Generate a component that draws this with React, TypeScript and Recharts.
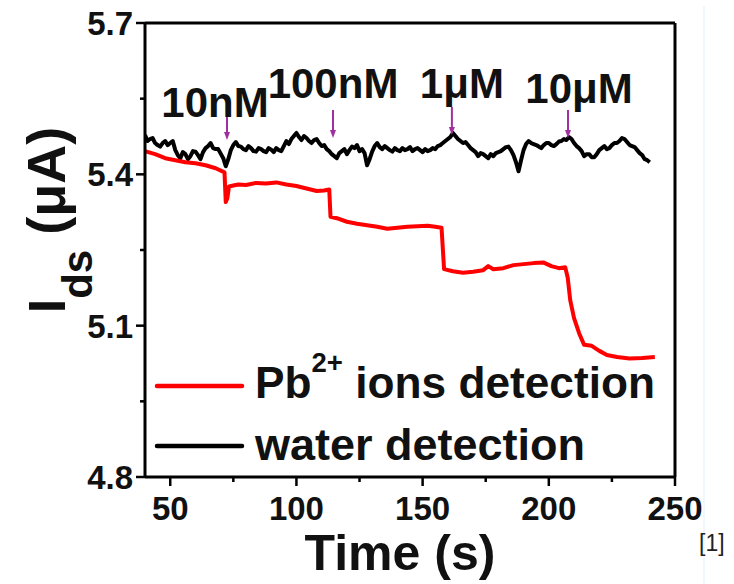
import { LineChart, Line, XAxis, YAxis, ReferenceLine, ReferenceDot, Legend } from "recharts";

const FONT = "'Liberation Sans', Arial, Helvetica, sans-serif";

// water detection (black trace), one reading per second
const waterTime = [
  40, 41, 42, 43, 44, 45, 46, 47, 48, 49,
  50, 51, 52, 53, 54, 55, 56, 57, 58, 59,
  60, 61, 62, 63, 64, 65, 66, 67, 68, 69,
  70, 71, 72, 73, 74, 75, 76, 77, 78, 79,
  80, 81, 82, 83, 84, 85, 86, 87, 88, 89,
  90, 91, 92, 93, 94, 95, 96, 97, 98, 99,
  100, 101, 102, 103, 104, 105, 106, 107, 108, 109,
  110, 111, 112, 113, 114, 115, 116, 117, 118, 119,
  120, 121, 122, 123, 124, 125, 126, 127, 128, 129,
  130, 131, 132, 133, 134, 135, 136, 137, 138, 139,
  140, 141, 142, 143, 144, 145, 146, 147, 148, 149,
  150, 151, 152, 153, 154, 155, 156, 157, 158, 159,
  160, 161, 162, 163, 164, 165, 166, 167, 168, 169,
  170, 171, 172, 173, 174, 175, 176, 177, 178, 179,
  180, 181, 182, 183, 184, 185, 186, 187, 188, 189,
  190, 191, 192, 193, 194, 195, 196, 197, 198, 199,
  200, 201, 202, 203, 204, 205, 206, 207, 208, 209,
  210, 211, 212, 213, 214, 215, 216, 217, 218, 219,
  220, 221, 222, 223, 224, 225, 226, 227, 228, 229,
  230, 231, 232, 233, 234, 235, 236, 237, 238, 239,
  240,
];
const waterCurrent = [
  5.478, 5.466, 5.470, 5.472, 5.462, 5.458, 5.455, 5.462, 5.466, 5.458,
  5.462, 5.466, 5.448, 5.438, 5.432, 5.444, 5.440, 5.430, 5.436, 5.446,
  5.445, 5.438, 5.430, 5.444, 5.452, 5.456, 5.462, 5.452, 5.450, 5.450,
  5.441, 5.432, 5.416, 5.430, 5.448, 5.458, 5.464, 5.456, 5.455, 5.450,
  5.448, 5.456, 5.452, 5.446, 5.445, 5.452, 5.450, 5.446, 5.444, 5.452,
  5.449, 5.444, 5.452, 5.448, 5.446, 5.456, 5.466, 5.460, 5.470, 5.476,
  5.482, 5.474, 5.468, 5.476, 5.472, 5.466, 5.462, 5.468, 5.470, 5.462,
  5.456, 5.458, 5.450, 5.446, 5.440, 5.436, 5.432, 5.442, 5.446, 5.450,
  5.440, 5.448, 5.455, 5.452, 5.458, 5.446, 5.450, 5.442, 5.418, 5.430,
  5.445, 5.456, 5.462, 5.454, 5.450, 5.456, 5.452, 5.448, 5.445, 5.452,
  5.448, 5.446, 5.452, 5.448, 5.450, 5.454, 5.446, 5.450, 5.452, 5.448,
  5.444, 5.450, 5.446, 5.448, 5.452, 5.450, 5.456, 5.458, 5.462, 5.466,
  5.470, 5.474, 5.482, 5.476, 5.470, 5.466, 5.462, 5.464, 5.458, 5.452,
  5.448, 5.444, 5.436, 5.442, 5.440, 5.436, 5.432, 5.440, 5.436, 5.442,
  5.444, 5.446, 5.450, 5.454, 5.455, 5.448, 5.438, 5.424, 5.406, 5.428,
  5.448, 5.460, 5.466, 5.462, 5.460, 5.458, 5.455, 5.452, 5.458, 5.462,
  5.462, 5.458, 5.456, 5.460, 5.465, 5.466, 5.470, 5.468, 5.474, 5.470,
  5.462, 5.456, 5.452, 5.446, 5.436, 5.440, 5.440, 5.434, 5.434, 5.440,
  5.448, 5.452, 5.456, 5.450, 5.452, 5.458, 5.462, 5.462, 5.466, 5.472,
  5.470, 5.464, 5.458, 5.456, 5.454, 5.448, 5.442, 5.438, 5.430, 5.428,
  5.424,
];

// Pb2+ ions detection (red trace)
const pbTime = [
  40, 44, 48, 52, 56, 60, 64, 68, 71.5, 72, 72.6, 73.3, 75, 77, 80, 84, 88, 92, 96, 100,
  104, 108, 111, 113, 113.5, 116, 120, 124, 128, 132, 136, 140, 144, 148, 152, 155, 157.5, 158.5, 162, 166,
  170, 174, 176, 178, 182, 186, 190, 194, 198, 201, 204, 206.5, 207.5, 208.5, 210, 212, 214, 217, 220, 223,
  227, 232, 237, 242,
];
const pbCurrent = [
  5.446, 5.440, 5.432, 5.428, 5.424, 5.422, 5.418, 5.412, 5.404, 5.345, 5.352, 5.376, 5.378, 5.380, 5.379, 5.383, 5.382, 5.384, 5.380, 5.377,
  5.372, 5.367, 5.368, 5.370, 5.316, 5.313, 5.306, 5.302, 5.299, 5.296, 5.292, 5.294, 5.296, 5.297, 5.298, 5.296, 5.294, 5.212, 5.208, 5.205,
  5.207, 5.210, 5.218, 5.212, 5.214, 5.220, 5.222, 5.224, 5.225, 5.218, 5.214, 5.216, 5.195, 5.150, 5.115, 5.085, 5.062, 5.060, 5.050, 5.042,
  5.038, 5.035, 5.036, 5.038,
];

const xMajor = [50, 100, 150, 200, 250];
const xMinor = [75, 125, 175, 225];
const yMajor = [4.8, 5.1, 5.4, 5.7];
const yMinor = [4.95, 5.25, 5.55];

// concentration additions
const doseTimes = [72.5, 114.5, 161.6, 207.6];
const doseLevels = [5.468, 5.472, 5.478, 5.472];
const doseLabels = ["10nM", "100nM", "1μM", "10μM"];
const doseLabelDx = [-12, 0, 10, 11];
const doseLabelDy = [-23, -40, -37, -35];

const waterData = waterTime.map((t, i) => ({ t, v: waterCurrent[i] }));
const pbData = pbTime.map((t, i) => ({ t, v: pbCurrent[i] }));

const XTick = (props: any) => {
  const { x, y, payload } = props;
  const major = xMajor.includes(payload.value);
  return (
    <g>
      <line x1={x} x2={x} y1={y} y2={y + (major ? 9 : 5)} stroke="#000" strokeWidth={2.5} />
      {major && (
        <text x={x} y={y + 43} textAnchor="middle" fontFamily={FONT} fontWeight="bold" fontSize={33} fill="#111">
          {payload.value}
        </text>
      )}
    </g>
  );
};

const YTick = (props: any) => {
  const { x, y, payload } = props;
  const major = yMajor.some((m) => Math.abs(m - payload.value) < 1e-6);
  return (
    <g>
      <line x1={x} x2={x - (major ? 9 : 5)} y1={y} y2={y} stroke="#000" strokeWidth={2.5} />
      {major && (
        <text x={x - 12} y={y + 12} textAnchor="end" fontFamily={FONT} fontWeight="bold" fontSize={33} fill="#111">
          {payload.value.toFixed(1)}
        </text>
      )}
    </g>
  );
};

const YTitle = (props: any) => {
  const vb = props.viewBox || { x: 0, y: 23 };
  const x = vb.x + 65;
  const y = vb.y + 197;
  return (
    <text
      x={x}
      y={y}
      transform={`rotate(-90 ${x} ${y})`}
      textAnchor="middle"
      fontFamily={FONT}
      fontWeight="bold"
      fill="#111"
    >
      <tspan fontSize={52}>I</tspan>
      <tspan fontSize={42} dy={27}>ds</tspan>
      <tspan fontSize={54} dy={-27}> (μA)</tspan>
    </text>
  );
};

const XTitle = (props: any) => {
  const vb = props.viewBox || { x: 145, y: 477 };
  return (
    <text x={vb.x + 255} y={vb.y + 93} textAnchor="middle" fontFamily={FONT} fontWeight="bold" fontSize={50} fill="#111">
      Time (s)
    </text>
  );
};

const DoseMark = (props: any) => {
  const { cx, cy, idx } = props;
  if (cx == null || cy == null) return null;
  return (
    <g>
      <line x1={cx} x2={cx} y1={cy - 28} y2={cy - 5} stroke="#a0309f" strokeWidth={2} />
      <polygon points={`${cx - 3},${cy - 8} ${cx + 3},${cy - 8} ${cx},${cy}`} fill="#a0309f" />
      <text
        x={cx + doseLabelDx[idx]}
        y={cy + doseLabelDy[idx]}
        textAnchor="middle"
        fontFamily={FONT}
        fontWeight="bold"
        fontSize={42}
        fill="#111"
      >
        {doseLabels[idx]}
      </text>
    </g>
  );
};

const LegendBox = () => (
  <svg width={540} height={130} style={{ display: "block" }}>
    <line x1={7} x2={92} y1={46} y2={46} stroke="#ff0000" strokeWidth={4.5} strokeLinecap="round" />
    <line x1={7} x2={92} y1={106} y2={106} stroke="#000" strokeWidth={4.5} strokeLinecap="round" />
    <text x={105} y={58} fontFamily={FONT} fontWeight="bold" fontSize={45} fill="#111" textLength={400} lengthAdjust="spacingAndGlyphs">
      Pb<tspan fontSize={28} dy={-26}>2+</tspan>
      <tspan dy={26}> ions detection</tspan>
    </text>
    <text x={105} y={120} fontFamily={FONT} fontWeight="bold" fontSize={45} fill="#111" textLength={330} lengthAdjust="spacingAndGlyphs">
      water detection
    </text>
  </svg>
);

export default function App() {
  return (
    <div style={{ position: "absolute", left: 0, top: 0, width: 734, height: 584, background: "#fff" }}>
      <LineChart width={734} height={584} margin={{ top: 23, right: 59, bottom: 0, left: 0 }}>
        <XAxis
          dataKey="t"
          type="number"
          domain={[40, 250]}
          allowDataOverflow
          ticks={[...xMajor, ...xMinor].sort((a, b) => a - b)}
          tick={<XTick />}
          tickSize={0}
          tickMargin={0}
          interval={0}
          height={107}
          axisLine={{ stroke: "#000", strokeWidth: 3 }}
          tickLine={false}
          label={(p: any) => <XTitle {...p} />}
        />
        <YAxis
          type="number"
          domain={[4.8, 5.7]}
          allowDataOverflow
          ticks={[...yMajor, ...yMinor].sort((a, b) => a - b)}
          tick={<YTick />}
          tickSize={0}
          tickMargin={0}
          interval={0}
          width={145}
          axisLine={{ stroke: "#000", strokeWidth: 3 }}
          tickLine={false}
          label={(p: any) => <YTitle {...p} />}
        />
        <ReferenceLine y={5.7} stroke="#000" strokeWidth={3} />
        <ReferenceLine x={250} stroke="#000" strokeWidth={3} />
        <Line
          data={waterData}
          dataKey="v"
          name="water detection"
          type="linear"
          stroke="#000"
          strokeWidth={4}
          strokeLinejoin="round"
          dot={false}
          isAnimationActive={false}
        />
        <Line
          data={pbData}
          dataKey="v"
          name="Pb2+ ions detection"
          type="linear"
          stroke="#ff0000"
          strokeWidth={4}
          strokeLinejoin="round"
          dot={false}
          isAnimationActive={false}
        />
        {doseTimes.map((t, i) => (
          <ReferenceDot
            key={doseLabels[i]}
            x={t}
            y={doseLevels[i]}
            r={1}
            shape={(p: any) => <DoseMark {...p} idx={i} />}
          />
        ))}
        <Legend
          layout="vertical"
          align="center"
          verticalAlign="middle"
          wrapperStyle={{ left: 150, top: 340, width: 540, height: 130 }}
          content={() => <LegendBox />}
        />
      </LineChart>
      <svg width={734} height={584} style={{ position: "absolute", left: 0, top: 0, pointerEvents: "none" }}>
        <line x1={704} x2={704} y1={6} y2={584} stroke="#e3f1f7" strokeWidth={1} />
        <text x={699} y={551} fontFamily={FONT} fontSize={23} fill="#222">
          [1]
        </text>
      </svg>
    </div>
  );
}
